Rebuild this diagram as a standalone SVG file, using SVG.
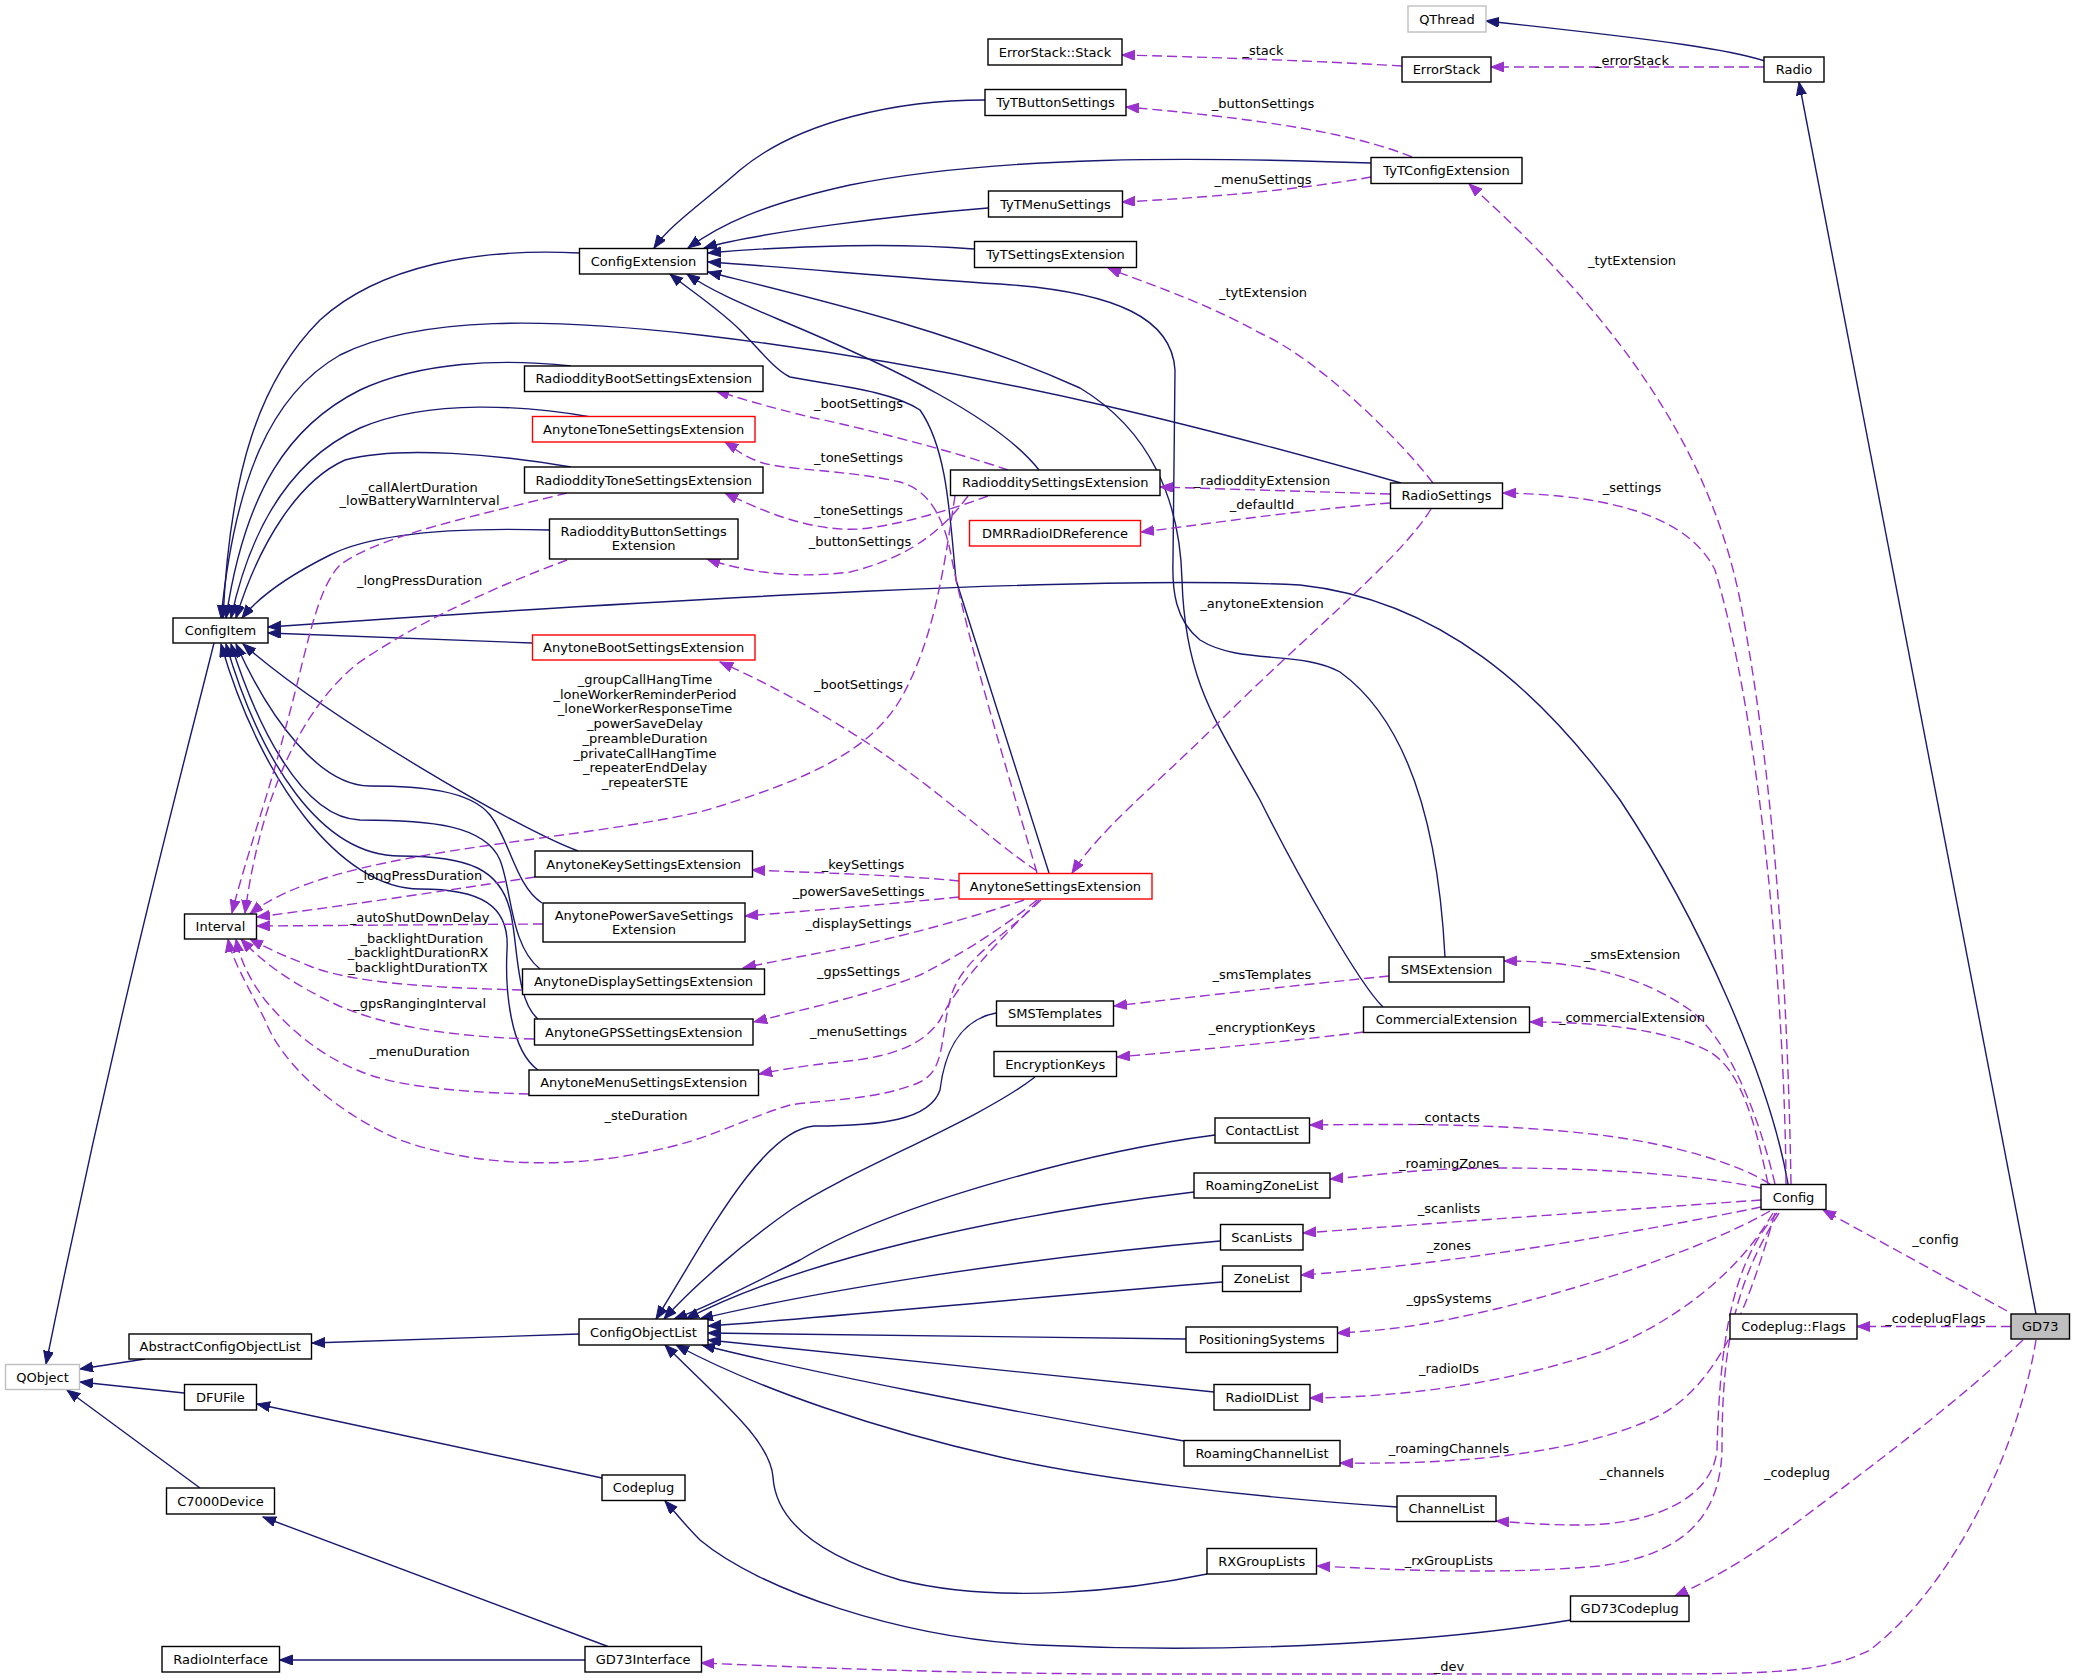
<svg xmlns="http://www.w3.org/2000/svg" width="2075" height="1680" viewBox="0 0 2075 1680">
<defs>
<style>
.n rect{fill:#fff;stroke:#000;stroke-width:1.4}
.n.r rect{stroke:#f00}
.n.g rect{stroke:#bfbfbf}
.n.gd rect{fill:#bfbfbf}
text{font-family:"DejaVu Sans",sans-serif;font-size:13px;fill:#000}
.n text,.l text{text-anchor:middle}
.i{fill:none;stroke:#191970;stroke-width:1.4;marker-end:url(#ai)}
.u{fill:none;stroke:#9a32cd;stroke-width:1.4;stroke-dasharray:10,5;marker-end:url(#au)}
</style>
<marker id="ai" markerWidth="14" markerHeight="11" refX="13" refY="5" orient="auto" markerUnits="userSpaceOnUse"><path d="M0,0 L13,5 L0,10 z" fill="#191970" stroke="#191970" stroke-width="1"/></marker>
<marker id="au" markerWidth="14" markerHeight="11" refX="13" refY="5" orient="auto" markerUnits="userSpaceOnUse"><path d="M0,0 L13,5 L0,10 z" fill="#9a32cd" stroke="#9a32cd" stroke-width="1" stroke-dasharray="none"/></marker>
</defs>
<rect width="2075" height="1680" fill="#fff"/>
<g id="edges">
<!-- inheritance -->
<path class="i" d="M1765,61 C1730,50 1680,42 1486,21"/>
<path class="i" d="M2036,1314 L1799,82"/>
<path class="i" d="M214,643 C185,760 120,1000 46,1364"/>
<path class="i" d="M579,253 C480,248 380,265 320,320 C260,380 230,470 223,618"/>
<path class="i" d="M1401,483 C1250,440 1000,370 700,335 C550,318 420,315 340,355 C270,395 235,480 221,618"/>
<path class="i" d="M571,366 C500,358 420,362 360,390 C290,425 245,490 226,618"/>
<path class="i" d="M591,417 C530,406 430,398 360,428 C290,460 250,530 231,618"/>
<path class="i" d="M571,467 C500,455 400,445 345,460 C300,480 260,540 236,618"/>
<path class="i" d="M549,530 C480,528 380,530 330,555 C290,575 260,595 242,618"/>
<path class="i" d="M1788,1184 C1770,1080 1700,920 1620,800 C1540,690 1440,600 1300,585 C1100,575 700,597 268,627"/>
<path class="i" d="M532,643 L268,633"/>
<path class="i" d="M578,851 C520,830 330,720 243,644"/>
<path class="i" d="M542,903 C515,885 510,840 490,815 C470,790 420,786 370,786 C320,786 270,720 236,644"/>
<path class="i" d="M540,969 C510,945 512,890 500,860 C485,825 430,820 360,820 C300,818 255,720 231,644"/>
<path class="i" d="M538,1019 C515,1000 518,940 510,910 C500,870 470,856 400,856 C320,856 260,760 226,644"/>
<path class="i" d="M538,1070 C510,1050 505,990 507,950 C510,905 480,889 420,889 C340,889 260,780 221,644"/>
<path class="i" d="M145,1359 L80,1369"/>
<path class="i" d="M184,1393 L80,1382"/>
<path class="i" d="M200,1488 L67,1390"/>
<path class="i" d="M579,1334 L312,1343"/>
<path class="i" d="M602,1478 L257,1404"/>
<path class="i" d="M608,1646.5 L263,1517"/>
<path class="i" d="M585,1660 L279.5,1660"/>
<path class="i" d="M1571,1620 C1450,1640 1250,1655 1037,1645 C900,1638 760,1590 700,1540 C685,1525 675,1512 665,1501"/>
<path class="i" d="M985,100 C900,100 800,120 740,170 C700,205 670,225 654,248"/>
<path class="i" d="M1371,163 C1200,157 1000,155 850,185 C760,205 720,225 688,248"/>
<path class="i" d="M988,208 C900,215 760,232 704,248"/>
<path class="i" d="M974,249 C900,243 800,245 708,253"/>
<path class="i" d="M1445,957 C1440,860 1420,730 1340,672 C1300,650 1240,665 1200,640 C1175,620 1172,590 1173,560 L1175,370 C1172,320 1120,292 1000,284 C900,278 800,268 708,262"/>
<path class="i" d="M1383,1007 C1360,985 1300,880 1260,800 C1215,720 1185,680 1182,580 C1180,500 1150,430 1080,388 C950,330 820,300 708,272"/>
<path class="i" d="M1039,470 C1000,420 900,370 780,320 C740,303 710,290 687,274"/>
<path class="i" d="M1049,873 L956,580 C950,520 948,450 920,410 C890,390 830,385 790,377 C775,370 760,350 740,330 C720,310 690,290 670,274"/>
<path class="i" d="M996,1013 C960,1020 945,1050 940,1090 C930,1120 880,1126 814,1126 C760,1130 700,1250 656,1319"/>
<path class="i" d="M1035,1077 C980,1120 850,1170 792,1209 C740,1245 690,1290 664,1319"/>
<path class="i" d="M1215,1135 C1100,1150 900,1200 800,1260 C740,1290 700,1310 674,1319"/>
<path class="i" d="M1194,1192 C1000,1215 800,1260 686,1319"/>
<path class="i" d="M1220,1241 C1000,1260 800,1295 700,1319"/>
<path class="i" d="M1222,1282 C1000,1300 800,1320 708,1326"/>
<path class="i" d="M1186,1339 L708,1333"/>
<path class="i" d="M1214,1392 C1000,1370 800,1350 708,1340"/>
<path class="i" d="M1184,1441 C1000,1410 800,1370 702,1345"/>
<path class="i" d="M1397,1507 C1250,1497 1100,1480 1000,1457 C880,1430 760,1390 676,1345"/>
<path class="i" d="M1207,1574 C1130,1590 1000,1605 900,1580 C800,1550 775,1510 773,1477 C770,1440 720,1400 665,1345"/>
<!-- usage -->
<path class="u" d="M1764,67 L1491,67"/>
<path class="u" d="M1402,66 C1300,60 1200,57 1122,55"/>
<path class="u" d="M1412,157 C1370,140 1300,122 1126,107"/>
<path class="u" d="M1371,177 C1300,190 1200,198 1122,202"/>
<path class="u" d="M1791,1184 C1788,1000 1775,780 1740,600 C1710,450 1620,320 1469,184"/>
<path class="u" d="M1433,483 C1400,440 1320,360 1260,333 C1200,300 1150,285 1108,268"/>
<path class="u" d="M1786,1184 C1785,1000 1760,720 1715,570 C1690,520 1620,495 1503,493"/>
<path class="u" d="M1390,494 L1160,487"/>
<path class="u" d="M1390,503 C1300,510 1200,525 1141,532"/>
<path class="u" d="M1431,509 C1400,560 1300,640 1215,726 C1150,790 1100,830 1072,873"/>
<path class="u" d="M1008,470 C950,450 850,425 814,418 C760,405 740,398 716,391"/>
<path class="u" d="M1037,873 C1010,780 970,650 952,560 C945,520 930,490 900,482 C850,470 780,470 760,462 C740,455 735,448 725,442"/>
<path class="u" d="M988,496 C950,510 900,525 860,529 C810,532 760,510 725,493"/>
<path class="u" d="M968,496 C950,520 920,555 850,572 C790,580 740,570 707,559"/>
<path class="u" d="M567,493 C480,515 380,535 340,565 C315,590 305,660 285,730 C270,790 245,860 232,913"/>
<path class="u" d="M567,560 C500,585 420,620 357,664 C300,710 260,800 245,913"/>
<path class="u" d="M955,496 C945,560 935,640 900,700 C870,750 810,780 700,812 C550,845 330,850 250,914"/>
<path class="u" d="M535,877 C450,890 350,905 257,917"/>
<path class="u" d="M543,924 L257,926"/>
<path class="u" d="M522,990 C450,988 360,985 312,967 C290,958 270,950 250,939"/>
<path class="u" d="M534,1039 C450,1037 380,1025 335,1004 C295,985 265,965 241,939"/>
<path class="u" d="M529,1094 C450,1092 390,1085 357,1070 C320,1055 290,1030 265,1000 C250,980 240,960 236,939"/>
<path class="u" d="M1041,900 C1000,940 960,960 950,1000 C940,1040 945,1070 920,1082 C880,1100 820,1100 790,1105 C740,1120 710,1140 647,1152 C560,1170 470,1165 400,1140 C330,1110 280,1060 265,1020 C250,990 232,960 228,939"/>
<path class="u" d="M1037,871 C990,840 940,790 860,738 C800,700 760,680 720,662"/>
<path class="u" d="M959,881 C900,875 820,873 752,870"/>
<path class="u" d="M959,897 C900,903 820,910 745,916"/>
<path class="u" d="M1024,900 C980,915 920,932 860,945 C810,955 780,960 743,968"/>
<path class="u" d="M1037,900 C1000,930 960,955 920,975 C870,995 800,1010 754,1022"/>
<path class="u" d="M1039,900 C1000,940 960,980 940,1020 C920,1050 880,1058 840,1062 C800,1066 780,1070 759,1074"/>
<path class="u" d="M1389,976 C1300,985 1200,996 1114,1006"/>
<path class="u" d="M1364,1032 C1300,1040 1200,1050 1117,1057"/>
<path class="u" d="M1775,1184 C1760,1120 1730,1040 1690,1010 C1640,975 1580,961 1504,961"/>
<path class="u" d="M1768,1184 C1755,1120 1740,1070 1710,1052 C1670,1030 1600,1022 1530,1022"/>
<path class="u" d="M1770,1184 C1740,1165 1680,1145 1600,1135 C1500,1123 1400,1124 1310,1125"/>
<path class="u" d="M1761,1188 C1700,1175 1600,1168 1500,1168 C1420,1168 1380,1175 1330,1179"/>
<path class="u" d="M1761,1200 C1650,1208 1450,1222 1303,1233"/>
<path class="u" d="M1761,1207 C1650,1230 1450,1265 1301,1275"/>
<path class="u" d="M1770,1211 C1720,1240 1620,1278 1500,1308 C1440,1322 1400,1330 1337,1333"/>
<path class="u" d="M1773,1213 C1740,1270 1680,1320 1600,1352 C1500,1385 1400,1397 1310,1398"/>
<path class="u" d="M1775,1213 C1750,1300 1720,1390 1650,1420 C1580,1450 1480,1465 1340,1463"/>
<path class="u" d="M1777,1213 C1735,1260 1720,1330 1717,1450 C1712,1500 1650,1525 1580,1525 C1540,1525 1510,1522 1496,1521"/>
<path class="u" d="M1779,1213 C1730,1290 1722,1360 1722,1450 C1720,1520 1680,1555 1600,1566 C1500,1575 1400,1570 1317,1566"/>
<path class="u" d="M2007,1311 L1823,1210"/>
<path class="u" d="M2011,1326.5 L1857,1326.5"/>
<path class="u" d="M2023,1340 C1960,1400 1880,1460 1800,1520 C1740,1565 1700,1585 1675,1596"/>
<path class="u" d="M2036,1340 C2020,1440 1960,1580 1870,1650 C1820,1675 1760,1674 1600,1674 L1100,1674 C900,1672 800,1667 701,1663"/>
</g>
<g id="labels" class="l">
<text x="1632" y="64.5">_errorStack</text>
<text x="1263" y="55">_stack</text>
<text x="1263" y="108">_buttonSettings</text>
<text x="1263" y="183.5">_menuSettings</text>
<text x="1632" y="265">_tytExtension</text>
<text x="1263" y="296.5">_tytExtension</text>
<text x="1632" y="491.5">_settings</text>
<text x="1262" y="484.5">_radioddityExtension</text>
<text x="1262" y="508.5">_defaultId</text>
<text x="1262" y="608">_anytoneExtension</text>
<text x="858.6" y="407.5">_bootSettings</text>
<text x="858.6" y="461.5">_toneSettings</text>
<text x="858.6" y="515">_toneSettings</text>
<text x="860" y="545.5">_buttonSettings</text>
<text x="419.6" y="491.5">_callAlertDuration</text>
<text x="419.6" y="505">_lowBatteryWarnInterval</text>
<text x="419.6" y="584.5">_longPressDuration</text>
<text x="645" y="684">_groupCallHangTime</text>
<text x="645" y="698.7">_loneWorkerReminderPeriod</text>
<text x="645" y="713.4">_loneWorkerResponseTime</text>
<text x="645" y="728.1">_powerSaveDelay</text>
<text x="645" y="742.8">_preambleDuration</text>
<text x="645" y="757.5">_privateCallHangTime</text>
<text x="645" y="772.2">_repeaterEndDelay</text>
<text x="645" y="786.9">_repeaterSTE</text>
<text x="419.6" y="879.5">_longPressDuration</text>
<text x="419.6" y="921.5">_autoShutDownDelay</text>
<text x="421.8" y="943">_backlightDuration</text>
<text x="418" y="957">_backlightDurationRX</text>
<text x="418" y="972">_backlightDurationTX</text>
<text x="419.6" y="1007.5">_gpsRangingInterval</text>
<text x="419.6" y="1055.5">_menuDuration</text>
<text x="646" y="1119.5">_steDuration</text>
<text x="858.6" y="689">_bootSettings</text>
<text x="863" y="869">_keySettings</text>
<text x="858.6" y="896">_powerSaveSettings</text>
<text x="858.6" y="928">_displaySettings</text>
<text x="858.6" y="976">_gpsSettings</text>
<text x="858.6" y="1035.5">_menuSettings</text>
<text x="1262" y="979">_smsTemplates</text>
<text x="1262" y="1032">_encryptionKeys</text>
<text x="1632" y="959">_smsExtension</text>
<text x="1632" y="1021.5">_commercialExtension</text>
<text x="1449" y="1121.5">_contacts</text>
<text x="1449" y="1167.5">_roamingZones</text>
<text x="1449" y="1213">_scanlists</text>
<text x="1449" y="1249.5">_zones</text>
<text x="1449" y="1303">_gpsSystems</text>
<text x="1449" y="1373">_radioIDs</text>
<text x="1449" y="1453">_roamingChannels</text>
<text x="1632" y="1477">_channels</text>
<text x="1449" y="1564.5">_rxGroupLists</text>
<text x="1935.5" y="1243.5">_config</text>
<text x="1935.5" y="1323">_codeplugFlags</text>
<text x="1797" y="1476.5">_codeplug</text>
<text x="1449" y="1670.5">_dev</text>
</g>
<g id="n_QThread" class="n g"><rect x="1408" y="6" width="78" height="26"/><text x="1447" y="23.5">QThread</text></g>
<g id="n_ErrorStackStack" class="n"><rect x="988" y="39" width="134" height="26"/><text x="1055" y="56.5">ErrorStack::Stack</text></g>
<g id="n_ErrorStack" class="n"><rect x="1402" y="57" width="89" height="25"/><text x="1446.5" y="74">ErrorStack</text></g>
<g id="n_Radio" class="n"><rect x="1764" y="57" width="60" height="25"/><text x="1794" y="74">Radio</text></g>
<g id="n_TyTButtonSettings" class="n"><rect x="985" y="89.5" width="141" height="26"/><text x="1055.5" y="107">TyTButtonSettings</text></g>
<g id="n_TyTConfigExtension" class="n"><rect x="1371" y="157.5" width="151" height="26"/><text x="1446.5" y="175">TyTConfigExtension</text></g>
<g id="n_TyTMenuSettings" class="n"><rect x="988.5" y="191" width="134" height="26"/><text x="1055.5" y="208.5">TyTMenuSettings</text></g>
<g id="n_TyTSettingsExtension" class="n"><rect x="974.5" y="241.5" width="162" height="26"/><text x="1055.5" y="259">TyTSettingsExtension</text></g>
<g id="n_ConfigExtension" class="n"><rect x="579.5" y="248.5" width="128" height="25.5"/><text x="643.5" y="265.7">ConfigExtension</text></g>
<g id="n_RadioddityBootSettingsExtension" class="n"><rect x="524.5" y="366" width="238.5" height="25.5"/><text x="643.7" y="383.2">RadioddityBootSettingsExtension</text></g>
<g id="n_AnytoneToneSettingsExtension" class="n r"><rect x="532.5" y="416.5" width="222.5" height="25.5"/><text x="643.7" y="433.7">AnytoneToneSettingsExtension</text></g>
<g id="n_RadioddityToneSettingsExtension" class="n"><rect x="524.5" y="467" width="238.5" height="26"/><text x="643.7" y="484.5">RadioddityToneSettingsExtension</text></g>
<g id="n_RadiodditySettingsExtension" class="n"><rect x="950.5" y="470" width="209.5" height="25.5"/><text x="1055.2" y="487.2">RadiodditySettingsExtension</text></g>
<g id="n_RadioSettings" class="n"><rect x="1390.5" y="483" width="112" height="25.5"/><text x="1446.5" y="500.2">RadioSettings</text></g>
<g id="n_DMRRadioIDReference" class="n r"><rect x="969.5" y="520.5" width="171" height="25.5"/><text x="1055" y="537.7">DMRRadioIDReference</text></g>
<g id="n_RadioddityButtonSettingsExtension" class="n"><rect x="549.5" y="519" width="188.5" height="40"/><text x="643.7" y="535.5">RadioddityButtonSettings</text><text x="643.7" y="549.5">Extension</text></g>
<g id="n_ConfigItem" class="n"><rect x="173" y="618" width="95" height="25"/><text x="220.5" y="635">ConfigItem</text></g>
<g id="n_AnytoneBootSettingsExtension" class="n r"><rect x="532.5" y="635" width="222.5" height="25"/><text x="643.7" y="652">AnytoneBootSettingsExtension</text></g>
<g id="n_AnytoneKeySettingsExtension" class="n"><rect x="535" y="851" width="217.5" height="26"/><text x="643.7" y="868.5">AnytoneKeySettingsExtension</text></g>
<g id="n_AnytoneSettingsExtension" class="n r"><rect x="959" y="873.5" width="193" height="25.5"/><text x="1055.5" y="890.7">AnytoneSettingsExtension</text></g>
<g id="n_Interval" class="n"><rect x="184.5" y="914" width="72" height="25"/><text x="220.5" y="931">Interval</text></g>
<g id="n_AnytonePowerSaveSettingsExtension" class="n"><rect x="543" y="903" width="202" height="39"/><text x="644" y="919.5">AnytonePowerSaveSettings</text><text x="644" y="933.5">Extension</text></g>
<g id="n_AnytoneDisplaySettingsExtension" class="n"><rect x="522.5" y="969" width="242" height="25.5"/><text x="643.5" y="986.2">AnytoneDisplaySettingsExtension</text></g>
<g id="n_AnytoneGPSSettingsExtension" class="n"><rect x="534.5" y="1019" width="218.5" height="26"/><text x="643.7" y="1036.5">AnytoneGPSSettingsExtension</text></g>
<g id="n_AnytoneMenuSettingsExtension" class="n"><rect x="529" y="1070" width="229.5" height="25.5"/><text x="643.7" y="1087.2">AnytoneMenuSettingsExtension</text></g>
<g id="n_SMSExtension" class="n"><rect x="1389" y="957" width="115" height="25"/><text x="1446.5" y="974">SMSExtension</text></g>
<g id="n_SMSTemplates" class="n"><rect x="996.5" y="1001" width="117" height="25"/><text x="1055" y="1018">SMSTemplates</text></g>
<g id="n_CommercialExtension" class="n"><rect x="1363.5" y="1007" width="166" height="25.5"/><text x="1446.5" y="1024.2">CommercialExtension</text></g>
<g id="n_EncryptionKeys" class="n"><rect x="994" y="1051.5" width="122.5" height="25"/><text x="1055.2" y="1068.5">EncryptionKeys</text></g>
<g id="n_ContactList" class="n"><rect x="1215" y="1118" width="94.5" height="25"/><text x="1262.2" y="1135">ContactList</text></g>
<g id="n_RoamingZoneList" class="n"><rect x="1194" y="1173" width="136" height="25"/><text x="1262" y="1190">RoamingZoneList</text></g>
<g id="n_Config" class="n"><rect x="1761" y="1184.5" width="65" height="25"/><text x="1793.5" y="1201.5">Config</text></g>
<g id="n_ScanLists" class="n"><rect x="1220.5" y="1224.5" width="82.5" height="25.5"/><text x="1261.7" y="1241.7">ScanLists</text></g>
<g id="n_ZoneList" class="n"><rect x="1222.5" y="1266" width="78.5" height="25.5"/><text x="1261.7" y="1283.2">ZoneList</text></g>
<g id="n_ConfigObjectList" class="n"><rect x="579" y="1319" width="129" height="26"/><text x="643.5" y="1336.5">ConfigObjectList</text></g>
<g id="n_CodeplugFlags" class="n"><rect x="1730" y="1314" width="127" height="25"/><text x="1793.5" y="1331">Codeplug::Flags</text></g>
<g id="n_GD73" class="n gd"><rect x="2011" y="1314" width="58.5" height="25"/><text x="2040.2" y="1331">GD73</text></g>
<g id="n_PositioningSystems" class="n"><rect x="1186" y="1327" width="151.5" height="25.5"/><text x="1261.7" y="1344.2">PositioningSystems</text></g>
<g id="n_AbstractConfigObjectList" class="n"><rect x="129" y="1334" width="182.5" height="25"/><text x="220.2" y="1351">AbstractConfigObjectList</text></g>
<g id="n_QObject" class="n g"><rect x="5.5" y="1364.5" width="74" height="25"/><text x="42.5" y="1381.5">QObject</text></g>
<g id="n_DFUFile" class="n"><rect x="184.5" y="1384.5" width="72" height="25.5"/><text x="220.5" y="1401.7">DFUFile</text></g>
<g id="n_RadioIDList" class="n"><rect x="1214" y="1384.5" width="96" height="25.5"/><text x="1262" y="1401.7">RadioIDList</text></g>
<g id="n_RoamingChannelList" class="n"><rect x="1184" y="1440.5" width="156" height="25.5"/><text x="1262" y="1457.7">RoamingChannelList</text></g>
<g id="n_Codeplug" class="n"><rect x="602" y="1475" width="83" height="25.5"/><text x="643.5" y="1492.2">Codeplug</text></g>
<g id="n_C7000Device" class="n"><rect x="166.5" y="1488" width="108" height="26"/><text x="220.5" y="1505.5">C7000Device</text></g>
<g id="n_ChannelList" class="n"><rect x="1397" y="1496" width="99" height="25.5"/><text x="1446.5" y="1513.2">ChannelList</text></g>
<g id="n_RXGroupLists" class="n"><rect x="1207" y="1548.5" width="109.5" height="25.5"/><text x="1261.7" y="1565.7">RXGroupLists</text></g>
<g id="n_GD73Codeplug" class="n"><rect x="1570.5" y="1596" width="118.5" height="25.5"/><text x="1629.7" y="1613.2">GD73Codeplug</text></g>
<g id="n_RadioInterface" class="n"><rect x="162" y="1646.5" width="117.5" height="25.5"/><text x="220.7" y="1663.7">RadioInterface</text></g>
<g id="n_GD73Interface" class="n"><rect x="585" y="1646.5" width="116.5" height="25.5"/><text x="643.2" y="1663.7">GD73Interface</text></g>
</svg>
